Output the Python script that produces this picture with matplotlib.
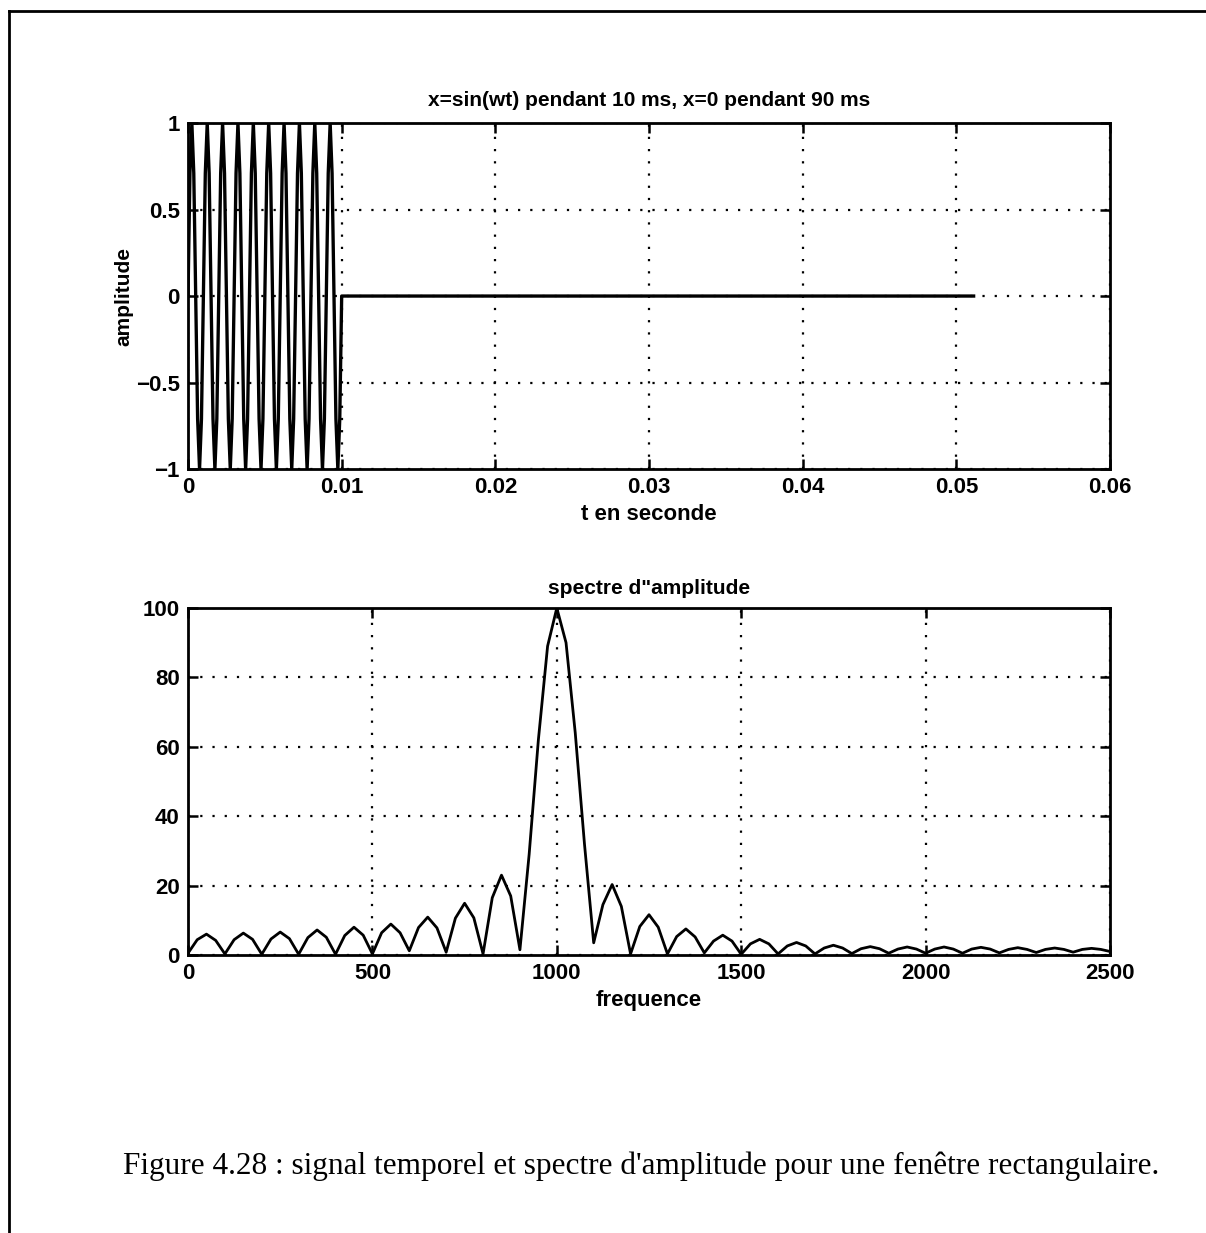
import numpy as np
import matplotlib.pyplot as plt
from matplotlib.lines import Line2D

# time signal: one period of the sampled sine (8 samples), 10 periods, then zeros
sine_period = [0.0, 0.71, 1.0, 0.71, 0.0, -0.71, -1.0, -0.71]
n_periods = 10
n_total = 410
dt = 1 / 8000

# amplitude spectrum read every 25 Hz from 0 to 2500
freq_step = 25
spectrum = [
    0.5, 4.4, 6.0, 4.2, 0.3,
    4.4, 6.3, 4.5, 0.2,
    4.6, 6.6, 4.7, 0.2,
    5.0, 7.2, 5.1, 0.2,
    5.6, 8.0, 5.7, 0.3,
    6.4, 8.9, 6.4, 1.2,
    7.9, 10.9, 7.8, 0.8,
    10.6, 14.9, 10.7, 0.3,
    16.5, 23.0, 17.0, 1.5,
    29.0, 62.0, 89.0, 100.0, 90.0, 64.0, 32.0,
    3.5, 14.5, 20.3, 14.0, 0.3,
    8.2, 11.6, 8.0, 0.3,
    5.3, 7.5, 5.2, 0.6,
    4.0, 5.7, 4.0, 0.2,
    3.2, 4.5, 3.2, 0.3,
    2.6, 3.6, 2.6, 0.3,
    2.0, 2.8, 2.0, 0.4,
    1.8, 2.4, 1.8, 0.5,
    1.7, 2.3, 1.7, 0.5,
    1.7, 2.3, 1.7, 0.5,
    1.7, 2.2, 1.7, 0.6,
    1.6, 2.1, 1.6, 0.7,
    1.6, 2.0, 1.6, 0.8,
    1.6, 1.9, 1.6, 1.0,
]

time_ticks = [0, 0.01, 0.02, 0.03, 0.04, 0.05, 0.06]
time_ticklabels = ["0", "0.01", "0.02", "0.03", "0.04", "0.05", "0.06"]
amp_ticks = [-1, -0.5, 0, 0.5, 1]
amp_ticklabels = ["\u22121", "\u22120.5", "0", "0.5", "1"]
freq_ticks = [0, 500, 1000, 1500, 2000, 2500]
spec_ticks = [0, 20, 40, 60, 80, 100]

x = np.concatenate([np.tile(sine_period, n_periods),
                    np.zeros(n_total - len(sine_period) * n_periods)])
t = np.arange(n_total) * dt
f = np.arange(len(spectrum)) * freq_step

plt.rcParams['font.family'] = ['Liberation Sans', 'DejaVu Sans']
plt.rcParams['font.weight'] = 'bold'
plt.rcParams['axes.titleweight'] = 'bold'
plt.rcParams['axes.labelweight'] = 'bold'
fs = 16

fig = plt.figure(figsize=(12.06, 12.33), dpi=100)

def style(ax):
    ax.grid(True, color='black', linestyle=(0, (1, 4.5)), linewidth=1.6)
    ax.tick_params(direction='in', length=7, width=1.8, top=True, right=True,
                   labelsize=fs, pad=6, colors='black')
    for s in ax.spines.values():
        s.set_linewidth(2)

ax1 = fig.add_axes([0.1559, 0.6196, 0.7645, 0.2806])
ax1.plot(t, x, color='black', linewidth=2.4)
ax1.set_xlim(0, 0.06)
ax1.set_ylim(-1, 1)
ax1.set_xticks(time_ticks)
ax1.set_xticklabels(time_ticklabels)
ax1.set_yticks(amp_ticks)
ax1.set_yticklabels(amp_ticklabels)
style(ax1)
ax1.set_title("x=sin(wt) pendant 10 ms, x=0 pendant 90 ms", fontsize=15, pad=12)
ax1.set_xlabel("t en seconde", fontsize=16, labelpad=4)
ax1.set_ylabel("amplitude", fontsize=15, labelpad=2)

ax2 = fig.add_axes([0.1559, 0.2255, 0.7645, 0.2814])
ax2.plot(f, spectrum, color='black', linewidth=2)
ax2.set_xlim(0, 2500)
ax2.set_ylim(0, 100)
ax2.set_xticks(freq_ticks)
ax2.set_yticks(spec_ticks)
style(ax2)
ax2.set_title("spectre d\"amplitude", fontsize=15, pad=10)
ax2.set_xlabel("frequence", fontsize=16, labelpad=4)

# page frame and caption
fig.add_artist(Line2D([0.0075, 0.0075], [0.991, -0.01], color='black', linewidth=2))
fig.add_artist(Line2D([0.0075, 1.01], [0.991, 0.991], color='black', linewidth=2))
fig.text(0.532, 1 - 1166 / 1233,
         "Figure 4.28 : signal temporel et spectre d'amplitude pour une fen\u00eatre rectangulaire.",
         family=['Liberation Serif', 'DejaVu Serif'], weight='normal',
         fontsize=22.5, ha='center', va='center')

fig.savefig("out.png", dpi=100, facecolor='white')
